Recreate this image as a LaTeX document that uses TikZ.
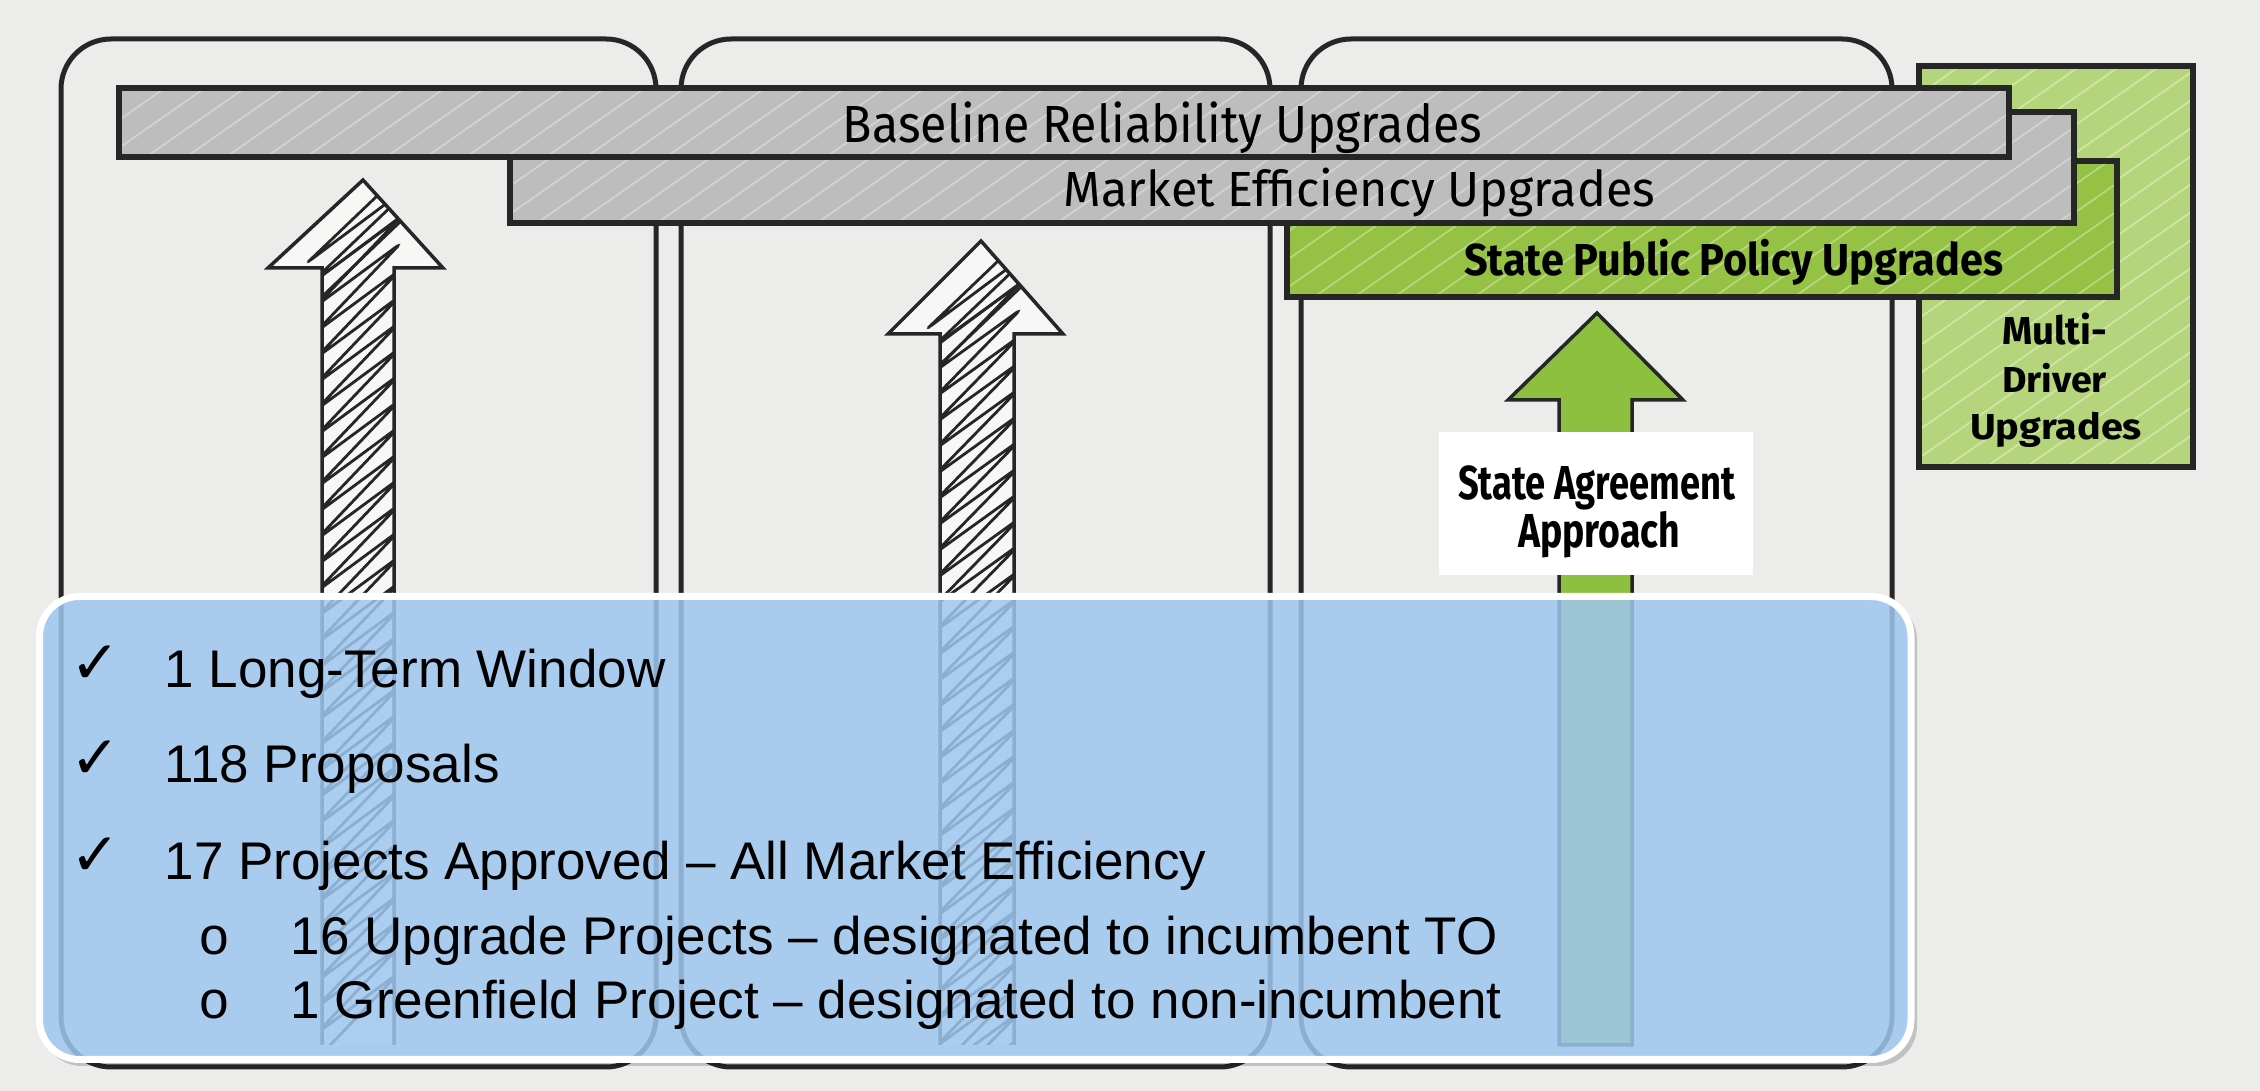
\documentclass[tikz,border=0pt]{standalone}
\usepackage{fontspec}
\usepackage{graphicx}
\setmainfont{Liberation Sans}
\newfontfamily\condfont{Fira Sans}
\newfontfamily\symfont{DejaVu Sans}
\newfontfamily\bulfont{Liberation Mono}
\definecolor{bg}{HTML}{ECECEA}
\definecolor{barGray}{HTML}{BDBDBD}
\definecolor{hatchGray}{HTML}{D2D2D2}
\definecolor{barGreen}{HTML}{95C244}
\definecolor{hatchGreen}{HTML}{B5D87C}
\definecolor{multiGreen}{HTML}{B4D57B}
\definecolor{hatchMulti}{HTML}{CFE5A6}
\definecolor{arrowGreen}{HTML}{8DC03F}
\definecolor{arrowWhite}{HTML}{F7F7F5}
\definecolor{ink}{HTML}{262626}
\definecolor{boxBlue}{HTML}{9EC6EF}
% fit text: width, cap height, text
\newcommand\fitbox[3]{\resizebox{#1}{#2}{\vphantom{H}\smash{#3}}}
% hatch a rectangle: x0,y0,x1,y1,count,colour
\newcommand\hatchbox[6]{%
  \begin{scope}
    \clip (#1,#2) rectangle (#3,#4);
    \foreach \k in {0,...,#5}{\draw[#6, line width=0.18mm] ({#1-580+\k*40},{#4+5}) -- ++(830,-580);}
  \end{scope}}
% sketch arrow: tipx, tipy, basey, headleft, headright, shaftleft, shaftright, bottom
\newcommand\sketcharrow[8]{%
  \fill[arrowWhite] (#6,#8) -- (#6,#3) -- (#4,#3) -- (#1,#2) -- (#5,#3) -- (#7,#3) -- (#7,#8) -- cycle;
  \begin{scope}
    \clip (#6,#8) -- (#6,#3) -- (#4,#3) -- (#1,#2) -- (#5,#3) -- (#7,#3) -- (#7,#8) -- cycle;
    \draw[scrib] ({#6-6},{#3+12}) \foreach \j in {0,...,29}{ -- ({#7+6},{#3+12+\j*26-62}) -- ({#6-6},{#3+12+(\j+1)*26}) };
    \draw[scrib] ({#4+40},{#3-6}) \foreach \j in {0,...,2}{ -- ({#5-20},{#3-6+\j*24-110}) -- ({#4+40},{#3-6+(\j+1)*24-24}) };
  \end{scope}
  \draw[ink, line width=0.35mm, line join=miter] (#6,#8) -- (#6,#3) -- (#4,#3) -- (#1,#2) -- (#5,#3) -- (#7,#3) -- (#7,#8);}
\tikzset{
  column/.style={draw=ink, line width=0.5mm, rounded corners=5mm},
  barbox/.style={draw=ink, line width=0.55mm},
  scrib/.style={draw=ink, line width=0.28mm, rounded corners=0.5mm},
  lbl/.style={anchor=base, inner sep=0pt, text=black},
  item/.style={anchor=base west, inner sep=0pt, font=\fontsize{15.08pt}{18pt}\selectfont},
  chk/.style={anchor=base west, inner sep=0pt, font=\symfont\fontsize{17pt}{17pt}\selectfont},
}
\begin{document}
\begin{tikzpicture}[x=0.1mm, y=-0.1mm]
\useasboundingbox (0,0) rectangle (2260,1091);
\fill[bg] (0,0) rectangle (2260,1091);

% columns
\draw[column] (61,39) rectangle (656,1067);
\draw[column] (681,39) rectangle (1270,1067);
\draw[column] (1301,39) rectangle (1892,1067);

% multi-driver box
\fill[multiGreen] (1919,66) rectangle (2193,467);
\hatchbox{1919}{66}{2193}{467}{22}{hatchMulti}
\draw[barbox] (1919,66) rectangle (2193,467);
% state public policy bar
\fill[barGreen] (1287,161) rectangle (2117,297);
\hatchbox{1287}{161}{2117}{297}{36}{hatchGreen}
\draw[barbox] (1287,161) rectangle (2117,297);
% market efficiency bar
\fill[barGray] (510,112) rectangle (2074,223);
\hatchbox{510}{112}{2074}{223}{54}{hatchGray}
\draw[barbox] (510,112) rectangle (2074,223);
% baseline bar
\fill[barGray] (119,88) rectangle (2009,157);
\hatchbox{119}{88}{2009}{157}{62}{hatchGray}
\draw[barbox] (119,88) rectangle (2009,157);

\node[lbl] (tBase) at (1162.5,143) {\condfont\fitbox{63.9mm}{3.6mm}{Baseline Reliability Upgrades}};
\node[lbl] (tMarket) at (1359.5,207) {\condfont\fitbox{59.1mm}{3.4mm}{Market Efficiency Upgrades}};
\node[lbl] (tPolicy) at (1733.5,276) {\condfont\bfseries\fitbox{53.9mm}{3.1mm}{State Public Policy Upgrades}};
\node[lbl] (tMulti1) at (2054.5,345) {\condfont\bfseries\fitbox{10.5mm}{2.7mm}{Multi-}};
\node[lbl] (tMulti2) at (2054.5,393) {\condfont\bfseries\fitbox{10.5mm}{2.5mm}{Driver}};
\node[lbl] (tMulti3) at (2056,440) {\condfont\bfseries\fitbox{17.2mm}{2.5mm}{Upgrades}};

% sketch arrows
\sketcharrow{363}{180}{268}{268}{443}{322}{394}{1045}
\sketcharrow{981}{241}{334}{888}{1063}{940}{1014}{1045}

% green arrow
\filldraw[fill=arrowGreen, draw=ink, line width=0.35mm, line join=miter]
  (1559,1045) -- (1559,400) -- (1508,400) -- (1597,313) -- (1683,400) -- (1632,400) -- (1632,1045) -- cycle;
\node[fill=white, inner sep=0pt, minimum width=31.4mm, minimum height=14.3mm] (saBox) at (1596,503.5) {};
\node[lbl] (tSA1) at (1596.5,500) {\condfont\bfseries\fitbox{27.7mm}{3.3mm}{State Agreement}};
\node[lbl] (tSA2) at (1599,548) {\condfont\bfseries\fitbox{16.2mm}{3.3mm}{Approach}};

% summary box
\fill[black, opacity=0.18, even odd rule, rounded corners=4mm]
  (42,600) rectangle (1917,1066) (39.5,596.5) rectangle (1911,1059.5);
\filldraw[fill=boxBlue, fill opacity=0.85, draw=white, line width=0.7mm, rounded corners=4mm]
  (39.5,596.5) rectangle (1911,1059.5);

\node[chk] (c1) at (70,684) {✓};
\node[chk] (c2) at (70,779) {✓};
\node[chk] (c3) at (70,876) {✓};
\node[item] (i1) at (164,688) {1 Long-Term Window};
\node[item] (i2) at (164,783) {118 Proposals};
\node[item] (i3) at (164,880) {17 Projects Approved – All Market Efficiency};
\node[item] (b1) at (198,955) {\bulfont o};
\node[item] (b2) at (198,1019) {\bulfont o};
\node[item] (i4) at (290,955) {16 Upgrade Projects – designated to incumbent TO};
\node[item] (i5) at (290,1019) {1 Greenfield Project – designated to non-incumbent};
\end{tikzpicture}
\end{document}
